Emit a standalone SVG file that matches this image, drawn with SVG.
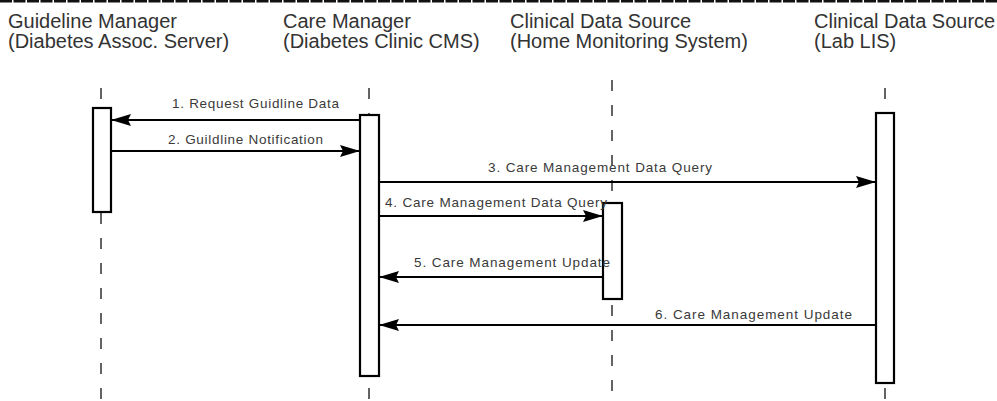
<svg xmlns="http://www.w3.org/2000/svg" width="997" height="401" viewBox="0 0 997 401">
  <style>
    .hdr { font-family: "Liberation Sans", Arial, sans-serif; font-size: 20px; fill: #333; }
    .lbl { font-family: "Liberation Sans", Arial, sans-serif; font-size: 13.5px; fill: #3a3a3a; }
    .life { stroke: #222; stroke-width: 1.4; stroke-dasharray: 11 14; fill: none; }
    .act { fill: #fff; stroke: #000; stroke-width: 2.2; }
    .msg { stroke: #000; stroke-width: 2; fill: none; marker-end: url(#arrow); }
  </style>
  <defs>
    <marker id="arrow" markerUnits="userSpaceOnUse" markerWidth="22" markerHeight="14" refX="20" refY="6" orient="auto">
      <path d="M0,0 L20,6 L0,12 L3,6 z" fill="#000"/>
    </marker>
  </defs>
  <rect width="997" height="401" fill="#fff"/>
  <line x1="0" y1="1" x2="997" y2="1" stroke="#111" stroke-width="3" stroke-dasharray="12 1.5"/>

  <g id="guideline-manager">
    <text class="hdr" x="8" y="28">Guideline Manager</text>
    <text class="hdr" x="8" y="48">(Diabetes Assoc. Server)</text>
    <line class="life" x1="101" y1="88" x2="101" y2="401"/>
    <rect class="act" x="93" y="108" width="18" height="104"/>
  </g>

  <g id="care-manager">
    <text class="hdr" x="283" y="28">Care Manager</text>
    <text class="hdr" x="283" y="48">(Diabetes Clinic CMS)</text>
    <line class="life" x1="369" y1="88" x2="369" y2="401"/>
    <rect class="act" x="360" y="115" width="19" height="261"/>
  </g>

  <g id="home-monitoring">
    <text class="hdr" x="510" y="28">Clinical Data Source</text>
    <text class="hdr" x="510" y="48">(Home Monitoring System)</text>
    <line class="life" x1="612" y1="80" x2="612" y2="401"/>
    <rect class="act" x="603" y="203" width="19" height="96"/>
  </g>

  <g id="lab-lis">
    <text class="hdr" x="814" y="28">Clinical Data Source</text>
    <text class="hdr" x="814" y="48">(Lab LIS)</text>
    <line class="life" x1="885" y1="88" x2="885" y2="401"/>
    <rect class="act" x="876" y="113" width="18" height="270"/>
  </g>

  <g id="connectors">
    <line class="msg" x1="360" y1="120" x2="111" y2="120"/>
    <line class="msg" x1="111" y1="151" x2="360" y2="151"/>
    <line class="msg" x1="379" y1="182" x2="876" y2="182"/>
    <line class="msg" x1="379" y1="216" x2="603" y2="216"/>
    <line class="msg" x1="603" y1="277" x2="379" y2="277"/>
    <line class="msg" x1="876" y1="325" x2="379" y2="325"/>
    <text class="lbl" x="172" y="108" textLength="167" lengthAdjust="spacing">1. Request Guidline Data</text>
    <text class="lbl" x="168" y="144" textLength="155" lengthAdjust="spacing">2. Guildline Notification</text>
    <text class="lbl" x="488" y="172" textLength="224" lengthAdjust="spacing">3. Care Management Data Query</text>
    <text class="lbl" x="385" y="207" textLength="222" lengthAdjust="spacing">4. Care Management Data Query</text>
    <text class="lbl" x="414" y="267" textLength="196" lengthAdjust="spacing">5. Care Management Update</text>
    <text class="lbl" x="655" y="319" textLength="197" lengthAdjust="spacing">6. Care Management Update</text>
  </g>
</svg>
